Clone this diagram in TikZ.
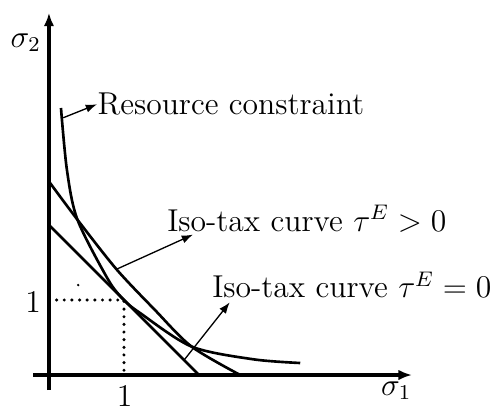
\documentclass[tikz,border=0pt]{standalone}
\usepackage{amsmath,amssymb}
\usepackage{tikz}
\usetikzlibrary{arrows.meta,positioning,calc}
\tikzset{
  axis/.style={-{Latex[length=1.8mm,width=1.4mm]},line width=1.5pt},
  curve/.style={line width=1pt},
  guide/.style={line width=1.3pt,line cap=round,dash pattern=on 0pt off 2.9pt},
  pointer/.style={-{Latex[length=1.5mm,width=1.1mm]},line width=0.5pt},
  curvelabel/.style={anchor=base west,inner sep=0pt,font=\large},
  axislabel/.style={inner sep=0pt,font=\large}
}
\begin{document}
\begin{tikzpicture}[x=1cm,y=1cm]
\useasboundingbox (-0.653,-0.467) rectangle (5.96,5.0);

\draw[axis] (-0.21,0) -- (4.84,0);
\draw[axis] (0,-0.2) -- (0,4.83);
\node[axislabel] (s1) at (4.63,-0.21) {$\sigma_1$};
\node[axislabel] (s2) at (-0.31,4.43) {$\sigma_2$};
\node[axislabel] (one1) at (1.01,-0.28) {$1$};
\node[axislabel] (one2) at (-0.21,0.97) {$1$};

\coordinate (P) at (1,1);
\draw[guide] (0,1) -- (P) -- (1,0);
\fill (0.39,1.2) circle (0.017);

% iso-tax tau^E = 0
\draw[curve] (0,2) -- (2,0);
% iso-tax tau^E > 0
\draw[curve] plot[smooth] coordinates {(0,2.58) (0.38,2.07) (0.9,1.41) (1.41,0.87) (1.9,0.38) (2.55,0)};
% resource constraint
\draw[curve] plot[smooth] coordinates {(0.16,3.56) (0.24,2.73) (0.38,2.07) (0.79,1.27) (1,1) (1.21,0.83) (1.9,0.38) (2.72,0.21) (3.35,0.16)};

\node[curvelabel] (rclabel) at (0.64,3.47) {Resource constraint};
\node[curvelabel] (gtlabel) at (1.57,1.92) {Iso-tax curve $\tau^E>0$};
\node[curvelabel] (eqlabel) at (2.17,1.03) {Iso-tax curve $\tau^E=0$};

\coordinate (rcpt) at (0.19,3.43);
\coordinate (gtpt) at (0.9,1.41);
\coordinate (eqpt) at (1.81,0.21);

\draw[pointer] (rcpt) -- (rclabel.west);
\draw[pointer] (gtpt) -- ([xshift=3.5mm,yshift=-0.3mm]gtlabel.south west);
\draw[pointer] (eqpt) -- ([xshift=2.4mm,yshift=-0.5mm]eqlabel.south west);
\end{tikzpicture}
\end{document}
